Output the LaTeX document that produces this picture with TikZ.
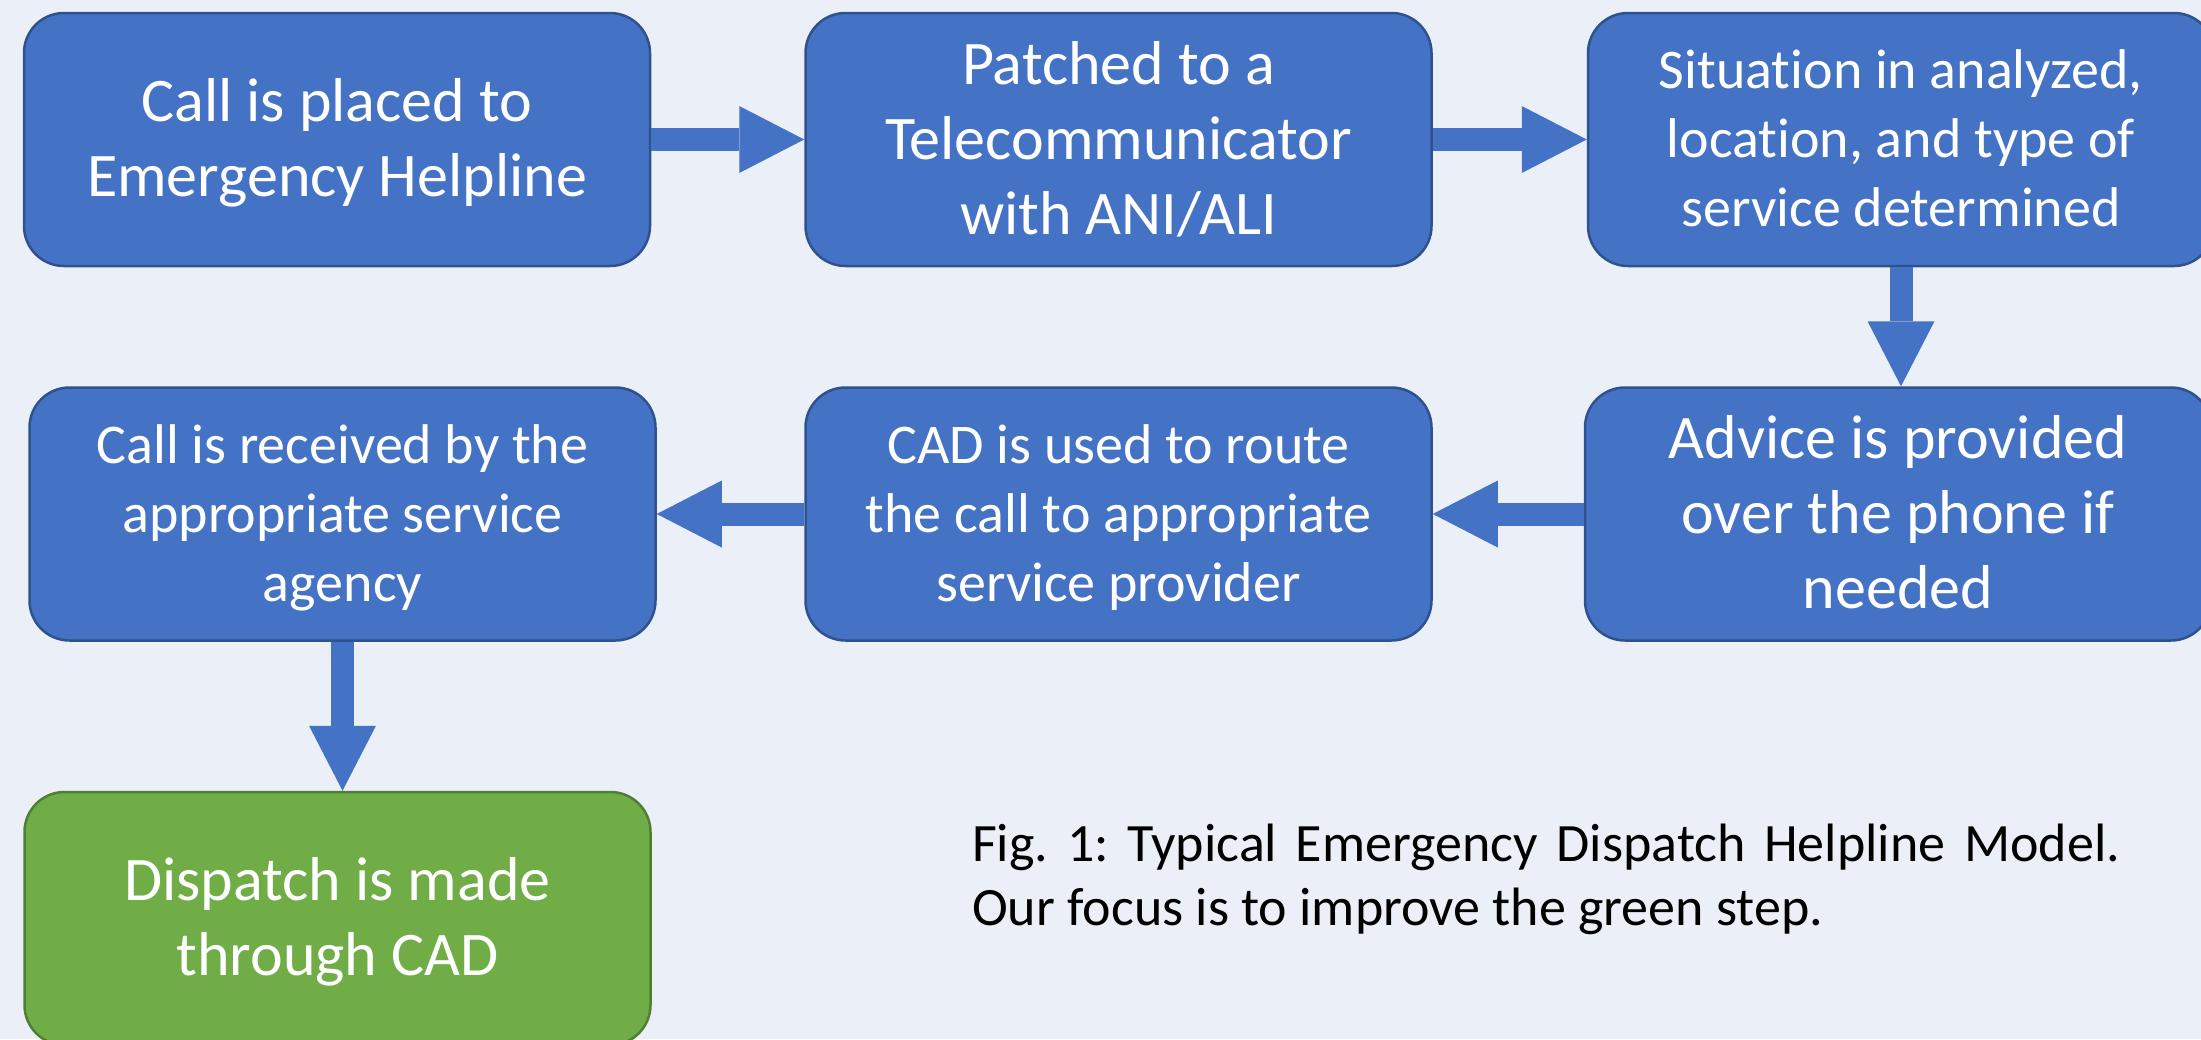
\documentclass[tikz,border=0pt]{standalone}
\usepackage{fontspec}
\setmainfont{Carlito}[Ligatures=NoCommon]
\usetikzlibrary{arrows.meta}
\definecolor{bg}{HTML}{EBF0F8}
\definecolor{stepfill}{HTML}{4472C4}
\definecolor{stepline}{HTML}{2F528F}
\definecolor{goalfill}{HTML}{70AD47}
\definecolor{goalline}{HTML}{507E32}

% centred lines of a step, with room above the first line so that the
% block sits a little low in its box
\newcommand\steplines[1]{\begin{tabular}{@{}c@{}}\rule{0pt}{\dimexpr\ht\strutbox+0.16em\relax}#1\end{tabular}}

\begin{document}
\frenchspacing
\begin{tikzpicture}[x=1pt,y=-1pt,
  stepbox/.style={draw=stepline, fill=stepfill, line width=2.5pt,
    rounded corners=40pt, minimum width=626pt, minimum height=253pt,
    inner sep=0pt, text=white},
  goalbox/.style={stepbox, draw=goalline, fill=goalfill},
  big/.style={font=\fontsize{62}{75}\selectfont},
  small/.style={font=\fontsize{56}{69}\selectfont},
  flow/.style={draw=stepfill, line width=23pt,
    -{Triangle[width=67pt,length=65pt,line width=0pt]}},
  caption/.style={anchor=base west, inner sep=0pt,
    font=\fontsize{54}{64}\selectfont}
]
% page background and frame
\fill[bg] (0,0) rectangle (2201,1039);
\useasboundingbox (0,0) rectangle (2201,1039);

% process steps
\node[stepbox, big]   (b1) at (337,139.5)   {\steplines{Call is placed to\\Emergency Helpline}};
\node[stepbox, big]   (b2) at (1118.5,139.5){\steplines{Patched to a\\Telecommunicator\\with ANI/ALI}};
\node[stepbox, small] (b3) at (1901,139.5)  {\steplines{Situation in analyzed,\\location, and type of\\service determined}};
\node[stepbox, big]   (b6) at (1898,514)    {\steplines{Advice is provided\\over the phone if\\needed}};
\node[stepbox, small] (b5) at (1118.5,514)  {\steplines{CAD is used to route\\the call to appropriate\\service provider}};
\node[stepbox, small] (b4) at (342.5,514)   {\steplines{Call is received by the\\appropriate service\\agency}};
\node[goalbox, big]   (b7) at (337.5,918.5) {\steplines{Dispatch is made\\through CAD}};

% connectors
\draw[flow] (b1.east) -- (b2.west);
\draw[flow] (b2.east) -- (b3.west);
\draw[flow] (b3.south) -- (b3.south |- b6.north);
\draw[flow] (b6.west) -- (b5.east);
\draw[flow] (b5.west) -- (b4.east);
\draw[flow] (b4.south) -- (b4.south |- b7.north);

% caption
\node[caption] (cap1) at (972,861) {\makebox[1148pt][s]{Fig. 1: Typical Emergency Dispatch Helpline Model.}};
\node[caption] (cap2) at (972,925) {Our focus is to improve the green step.};
\end{tikzpicture}
\end{document}
